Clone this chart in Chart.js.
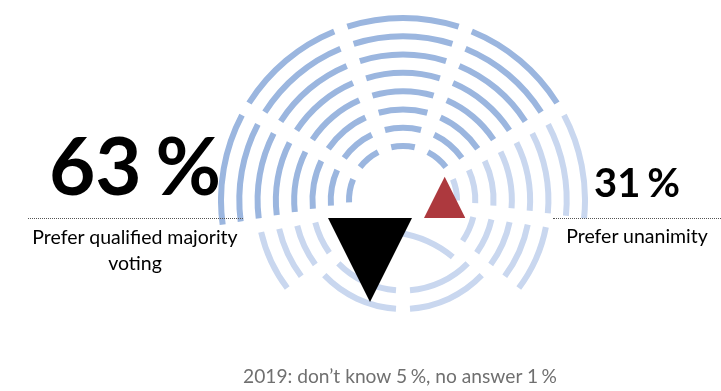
<!DOCTYPE html>
<html><head><meta charset="utf-8">
<script src="https://cdn.jsdelivr.net/npm/chart.js@4"></script>
<style>
html,body{margin:0;padding:0;background:#fff;width:721px;height:391px;overflow:hidden;position:relative;font-family:Lato,"Open Sans",sans-serif;color:#000;}
canvas{position:absolute;}
.t{position:absolute;white-space:nowrap;text-align:center;line-height:1;}
.p{word-spacing:-0.07em;}
.dot{position:absolute;height:0;border-top:1px dotted #555;}
</style></head><body>
<canvas id="rings" width="370" height="370" style="left:218px;top:15px"></canvas>
<canvas id="arc2" width="220" height="220" style="left:274px;top:229px"></canvas>
<canvas id="tri" width="370" height="370" style="left:218px;top:15px"></canvas>

<div class="dot" style="left:28px;top:218px;width:215px"></div>
<div class="dot" style="left:553px;top:218px;width:168px"></div>
<div class="t p" id="bigL" style="left:20px;width:230px;top:124px;font-size:80px;font-weight:700;"></div>
<div class="t" id="labL" style="left:15px;width:240px;top:224px;font-size:19.5px;line-height:26px;white-space:normal;"></div>
<div class="t p" id="bigR" style="left:557px;width:160px;top:162px;font-size:40px;font-weight:700;"></div>
<div class="t" id="labR" style="left:557px;width:160px;top:223px;font-size:19.5px;line-height:26px;"></div>
<div class="t" id="foot" style="left:150px;width:500px;top:366px;font-size:19.2px;color:#707070;"></div>

<script>
// ---- data ----
const categories = ['Prefer qualified majority voting', 'Prefer unanimity'];
const shares = [63, 31];
const otherLabels = ['don\u2019t know', 'no answer'];
const otherShares = [5, 1];
const surveyYear = 2019;

// decorative hemicycle sectors (degrees, counter-clockwise from 3 o'clock)
const sectorFrom      = [30, 70, 110, 150, 190, 220, 270, 320, -8];
const sectorTo        = [70, 110, 150, 190, 220, 270, 320, 352, 30];
const sectorInnerRing = [1, 1, 1, 1, 3, 3, 3, 2, 1];
const sectorOuterRing = [8, 8, 8, 8, 6, 4, 4, 6, 8];
const sectorTone      = ['dark','dark','dark','dark','light','light','light','light','light'];

// ---- styles / layout ----
const DARK = '#9bb6df', LIGHT = '#c9d7ef', NONE = 'rgba(0,0,0,0)';
const RING_COUNT = 8, RING_W = 6, OUTER_R = 185, INNER_EDGE = 51;
const SPACER_W = ((OUTER_R - INNER_EDGE) - RING_COUNT * RING_W) / (RING_COUNT - 1);
const GAP_PX = 14;
const START = 270;

const pct = v => '<span class="p">' + v + ' %</span>';
document.getElementById('bigL').textContent = shares[0] + ' %';
document.getElementById('labL').textContent = categories[0];
document.getElementById('bigR').textContent = shares[1] + ' %';
document.getElementById('labR').textContent = categories[1];
document.getElementById('foot').innerHTML = surveyYear + ': ' + otherLabels[0] + ' ' + pct(otherShares[0]) + ', ' + otherLabels[1] + ' ' + pct(otherShares[1]);

const norm = a => ((a % 360) + 360) % 360;
function ringData(pieces){
  const segs = pieces.map(p => ({s: norm(START - p.hi), len: p.hi - p.lo, color: p.color})).sort((a,b)=>a.s-b.s);
  const data = [], colors = []; let cur = 0;
  for (const g of segs){
    if (g.s > cur + 1e-6){ data.push(g.s - cur); colors.push(NONE); }
    data.push(g.len); colors.push(g.color); cur = g.s + g.len;
  }
  if (cur < 360 - 1e-6){ data.push(360 - cur); colors.push(NONE); }
  return {data, colors};
}
const ringRadius = k => INNER_EDGE + RING_W/2 + (k - 1) * (RING_W + SPACER_W);

const datasets = [];
for (let k = RING_COUNT; k >= 1; k--){
  const r = ringRadius(k);
  const half = (GAP_PX / 2) / r * 180 / Math.PI;
  const pieces = [];
  sectorFrom.forEach((f, i) => {
    if (k >= sectorInnerRing[i] && k <= sectorOuterRing[i]) {
      pieces.push({lo: f + half, hi: sectorTo[i] - half, color: sectorTone[i] === 'dark' ? DARK : LIGHT});
    }
  });
  const {data, colors} = ringData(pieces);
  datasets.push({data, backgroundColor: colors, weight: RING_W, borderWidth: 0});
  if (k > 1) datasets.push({data: [1], backgroundColor: [NONE], weight: SPACER_W, borderWidth: 0});
}

const donutOpts = (cut) => ({
  responsive: false, animation: false, rotation: 180, circumference: 360, cutout: cut,
  layout: {padding: 0},
  plugins: {legend: {display: false}, tooltip: {enabled: false}},
  elements: {arc: {borderWidth: 0, hoverOffset: 0, offset: 0}},
  events: []
});
new Chart(document.getElementById('rings'), {type: 'doughnut', data: {datasets}, options: donutOpts(INNER_EDGE)});

// small crossing arc below the hemicycle
const a2 = ringData([{lo: 50, hi: 82, color: LIGHT}]);
new Chart(document.getElementById('arc2'), {type: 'doughnut',
  data: {datasets: [{data: a2.data, backgroundColor: a2.colors, borderWidth: 0}]},
  options: donutOpts(104)});

// triangles: width and height proportional to the share
const PX_PER_PT = 84 / 63, BASE_Y = -18, LEFT_X = -75, TRI_GAP = 12;
const w0 = shares[0] * PX_PER_PT, w1 = shares[1] * PX_PER_PT;
const x1 = LEFT_X + w0 + TRI_GAP;
new Chart(document.getElementById('tri'), {
  type: 'scatter',
  data: {datasets: [
    {data: [{x: LEFT_X, y: BASE_Y}, {x: LEFT_X + w0/2, y: BASE_Y - w0}, {x: LEFT_X + w0, y: BASE_Y}],
     showLine: true, fill: {value: BASE_Y}, backgroundColor: '#000', borderColor: '#000', borderWidth: 0, pointRadius: 0, tension: 0},
    {data: [{x: x1, y: BASE_Y}, {x: x1 + w1/2, y: BASE_Y + w1}, {x: x1 + w1, y: BASE_Y}],
     showLine: true, fill: {value: BASE_Y}, backgroundColor: '#ad393e', borderColor: '#ad393e', borderWidth: 0, pointRadius: 0, tension: 0}
  ]},
  options: {
    responsive: false, animation: false, layout: {padding: 0},
    scales: {x: {type: 'linear', min: -185, max: 185, display: false}, y: {type: 'linear', min: -185, max: 185, display: false}},
    plugins: {legend: {display: false}, tooltip: {enabled: false}},
    events: []
  }
});
</script>
</body></html>
